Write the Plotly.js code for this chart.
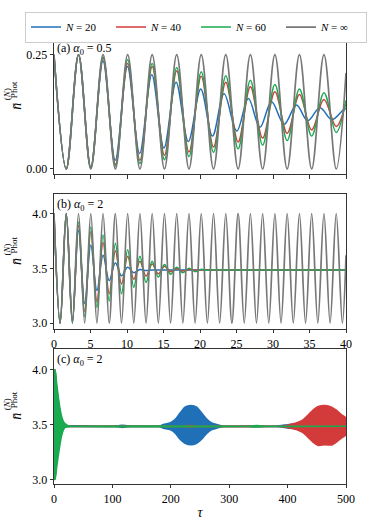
<!DOCTYPE html>
<html>
<head>
<meta charset="utf-8">
<script src="https://cdn.plot.ly/plotly-3.0.1.min.js"></script>
<style>html,body{margin:0;padding:0;background:#fff;}#chart{width:374px;height:522px;}</style>
</head>
<body>
<div id="chart"></div>
<script>
// ---------- data ----------
var seriesNames = ['<i>N</i> = 20', '<i>N</i> = 40', '<i>N</i> = 60', '<i>N</i> = ∞'];
var colors = ['#2070b8', '#d33b3b', '#1aaa50', '#777777'];

// panel (a): alpha0 = 0.5, extrema of the oscillation
var tauA = [0,1.68,3.36,5.04,6.72,8.41,10.09,11.77,13.45,15.13,16.81,18.49,20.17,21.85,23.53,25.22,26.9,28.58,30.26,31.94,33.62,35.3,36.98,38.66,40];
var grayA = [0.25,0,0.25,0,0.25,0,0.25,0,0.25,0,0.25,0,0.25,0,0.25,0,0.25,0,0.25,0,0.25,0,0.25,0,0.21];
var greenA = [0.25,0,0.25,0.001,0.245,0.006,0.239,0.012,0.231,0.020,0.222,0.027,0.213,0.036,0.204,0.044,0.194,0.052,0.185,0.062,0.175,0.072,0.167,0.080,0.150];
var redA = [0.25,0,0.25,0.002,0.243,0.010,0.231,0.019,0.224,0.030,0.215,0.037,0.203,0.048,0.190,0.059,0.180,0.0675,0.169,0.078,0.163,0.0855,0.152,0.093,0.145];
var tauA20 = [0,1.68,3.36,5.04,6.71,8.39,10.06,11.73,13.4,15.06,16.72,18.4,20.1,21.71,23.3,25.04,26.63,28.21,29.8,31.53,33.21,34.75,36.43,38.07,39.75,40];
var blueA = [0.25,0,0.25,0.004,0.236,0.019,0.224,0.034,0.206,0.046,0.190,0.060,0.175,0.072,0.1645,0.083,0.154,0.091,0.147,0.098,0.140,0.1056,0.134,0.108,0.131,0.131];

// panel (b): alpha0 = 2, extrema of the oscillation
var tauB = [0,0.84,1.68,2.52,3.36,4.2,5.04,5.88,6.72,7.56,8.41,9.25,10.09,10.93,11.77,12.61,13.45,14.29,15.13,15.97,16.81,17.65,18.49,19.33,20.17,21.01,21.85,22.69,23.53,24.37,25.22,26.06,26.9,27.74,28.58,29.42,30.26,31.1,31.94,32.78,33.62,34.46,35.3,36.14,36.98,37.82,38.66,39.5,40];
var grayB = [4,3,4,3,4,3,4,3,4,3,4,3,4,3,4,3,4,3,4,3,4,3,4,3,4,3,4,3,4,3,4,3,4,3,4,3,4,3,4,3,4,3,4,3,4,3,4,3,3.62];
var tauB20 = [0,0.84,1.68,2.52,3.36,4.2,5.04,5.88,6.72,7.56,8.41,9.25,10.09,10.93,11.77,12.61,13.45,14.29,40];
var blueB = [4,3,4,3.03,3.848,3.18,3.714,3.297,3.619,3.387,3.551,3.432,3.51,3.46,3.49,3.48,3.485,3.485,3.485];
var tauB40 = [0,0.84,1.68,2.52,3.36,4.2,5.04,5.88,6.72,7.56,8.41,9.25,10.09,10.93,11.77,12.61,13.45,14.29,15.13,15.97,16.81,17.65,18.49,19.33,20.17,21.01,40];
var redB = [4,3,4,3.01,3.89,3.107,3.833,3.194,3.738,3.268,3.661,3.357,3.61,3.40,3.565,3.43,3.54,3.45,3.52,3.47,3.497,3.476,3.49,3.482,3.487,3.485,3.485];
var tauB60 = [0,0.84,1.68,2.52,3.36,4.2,5.04,5.88,6.72,7.56,8.41,9.25,10.09,10.93,11.77,12.61,13.45,14.29,15.13,15.97,16.81,17.65,18.49,19.33,20.17,21.01,21.85,22.69,40];
var greenB = [4,3,4,3.0,3.92,3.06,3.878,3.143,3.804,3.202,3.729,3.268,3.67,3.328,3.61,3.372,3.565,3.42,3.536,3.446,3.51,3.46,3.50,3.47,3.492,3.482,3.487,3.485,3.485];

// panel (c): alpha0 = 2, long times; upper / lower envelopes of the fast oscillation
var tauC20 = [0,1.7,3.4,5.0,6.7,8.4,10,12,15,100,110,117,125,135,180,187.2,198.6,207.2,215.8,224.3,234.6,244.3,252.9,261.4,270,278.5,290,380,400,420,440,466,500];
var upC20 = [4.0,4.0,3.85,3.71,3.62,3.55,3.51,3.49,3.485,3.485,3.49,3.495,3.49,3.485,3.487,3.502,3.516,3.546,3.606,3.66,3.675,3.66,3.606,3.552,3.516,3.502,3.487,3.487,3.50,3.512,3.525,3.535,3.525];
var loC20 = [3.0,3.02,3.10,3.24,3.34,3.41,3.45,3.475,3.485,3.485,3.48,3.475,3.48,3.485,3.483,3.468,3.455,3.425,3.367,3.33,3.316,3.33,3.367,3.42,3.455,3.468,3.483,3.483,3.47,3.458,3.445,3.435,3.445];
var tauC40 = [0,1.7,3.4,5.0,6.7,8.4,10,12,15,18,21,25,215,233,250,385,400,410,418,427,435.6,444,452.6,464,475.5,484,492.6,500];
var upC40 = [4.0,4.0,3.89,3.83,3.74,3.66,3.61,3.565,3.52,3.497,3.488,3.485,3.485,3.492,3.485,3.485,3.495,3.508,3.522,3.546,3.591,3.636,3.666,3.675,3.66,3.63,3.591,3.56];
var loC40 = [3.0,3.01,3.107,3.194,3.268,3.357,3.40,3.43,3.45,3.476,3.482,3.485,3.485,3.478,3.485,3.485,3.475,3.462,3.449,3.425,3.382,3.338,3.31,3.316,3.315,3.343,3.38,3.41];
var tauC60 = [0,1.7,4.6,7.4,10.3,13.1,16,18.8,24.5,30,330,347,365,500];
var upC60 = [4.0,4.0,3.875,3.755,3.65,3.576,3.531,3.51,3.49,3.485,3.485,3.492,3.485,3.485];
var loC60 = [3.0,3.0,3.11,3.22,3.32,3.40,3.452,3.475,3.482,3.485,3.485,3.478,3.485,3.485];

// ---------- figure ----------
var FONT = "'Liberation Serif', 'DejaVu Serif', serif";
var traces = [];
function lineTrace(x, y, i, xa, ya, legend) {
  return {x: x, y: y, type: 'scatter', mode: 'lines', name: seriesNames[i],
    line: {color: colors[i], width: i === 3 ? 1.7 : 1.5, shape: 'spline', smoothing: 1},
    xaxis: xa, yaxis: ya, showlegend: legend, legendgroup: 'g' + i, hoverinfo: 'skip'};
}
traces.push(lineTrace(tauA20, blueA, 0, 'x', 'y', true));
traces.push(lineTrace(tauA, redA, 1, 'x', 'y', true));
traces.push(lineTrace(tauA, greenA, 2, 'x', 'y', true));
traces.push(lineTrace(tauA, grayA, 3, 'x', 'y', true));

traces.push(lineTrace(tauB20, blueB, 0, 'x2', 'y2', false));
traces.push(lineTrace(tauB40, redB, 1, 'x2', 'y2', false));
traces.push(lineTrace(tauB60, greenB, 2, 'x2', 'y2', false));
traces.push(lineTrace(tauB, grayB, 3, 'x2', 'y2', false));

function band(tau, up, lo, i) {
  var x = tau.concat(tau.slice().reverse());
  var y = up.concat(lo.slice().reverse());
  return {x: x, y: y, type: 'scatter', mode: 'lines', fill: 'toself', fillcolor: colors[i],
    line: {color: colors[i], width: 1.5, shape: 'spline', smoothing: 0.6},
    xaxis: 'x3', yaxis: 'y3', showlegend: false, hoverinfo: 'skip'};
}
traces.push(band(tauC20, upC20, loC20, 0));
traces.push(band(tauC40, upC40, loC40, 1));
traces.push(band(tauC60, upC60, loC60, 2));

function xax(range, dtick, labels, anchor) {
  return {range: range, dtick: dtick, tick0: 0, showticklabels: labels, anchor: anchor,
    ticks: 'outside', ticklen: 3.5, tickwidth: 0.8, tickcolor: '#000',
    showline: true, linecolor: '#000', linewidth: 0.8, mirror: true,
    showgrid: false, zeroline: false, tickfont: {family: FONT, size: 12, color: '#000'}};
}
function yax(domain, range, vals, text, anchor) {
  return {domain: domain, range: range, tickvals: vals, ticktext: text, anchor: anchor,
    ticks: 'outside', ticklen: 3.5, tickwidth: 0.8, tickcolor: '#000',
    showline: true, linecolor: '#000', linewidth: 0.8, mirror: true,
    showgrid: false, zeroline: false, tickfont: {family: FONT, size: 12, color: '#000'}};
}

var layout = {
  width: 374, height: 522,
  margin: {l: 54, r: 28, t: 29, b: 38},
  paper_bgcolor: '#fff', plot_bgcolor: '#fff',
  font: {family: FONT, color: '#000'},
  xaxis: xax([0, 40], 5, false, 'y'),
  xaxis2: xax([0, 40], 5, true, 'y2'),
  xaxis3: Object.assign(xax([0, 500], 100, true, 'y3'), {title: {text: '<i>τ</i>', font: {family: FONT, size: 14}, standoff: 2}}),
  yaxis: yax([0.6945, 1], [-0.0116, 0.2866], [0, 0.25], ['0.00', '0.25'], 'x'),
  yaxis2: yax([0.3473, 0.6505], [2.946, 4.179], [3, 3.5, 4], ['3.0', '3.5', '4.0'], 'x2'),
  yaxis3: yax([0, 0.3033], [2.958, 4.194], [3, 3.5, 4], ['3.0', '3.5', '4.0'], 'x3'),
  legend: {orientation: 'h', xref: 'paper', yref: 'paper', x: (25 - 54) / 292, y: 1 + (29 - 2) / 455,
    xanchor: 'left', yanchor: 'top', bordercolor: '#cccccc', borderwidth: 1, bgcolor: '#fff',
    font: {family: FONT, size: 11}, entrywidth: 40, entrywidthmode: 'pixels', itemwidth: 30, traceorder: 'normal'},
  annotations: []
};

var panelLabels = ['(a) <i>α</i><sub>0</sub> = 0.5', '(b) <i>α</i><sub>0</sub> = 2', '(c) <i>α</i><sub>0</sub> = 2'];
var yrefs = ['y domain', 'y2 domain', 'y3 domain'];
var xrefs = ['x domain', 'x2 domain', 'x3 domain'];
for (var p = 0; p < 3; p++) {
  layout.annotations.push({text: panelLabels[p], xref: xrefs[p], yref: yrefs[p], x: 0, y: 1,
    xanchor: 'left', yanchor: 'top', xshift: 1, yshift: -1, showarrow: false,
    font: {family: FONT, size: 12}});
  layout.annotations.push({text: '<i>n̄</i>', xref: 'paper', yref: yrefs[p], x: 0, y: 0.5,
    xanchor: 'center', yanchor: 'middle', xshift: -37.5, yshift: 0, textangle: -90, showarrow: false,
    font: {family: FONT, size: 14}});
  layout.annotations.push({text: '(<i>N</i>)', xref: 'paper', yref: yrefs[p], x: 0, y: 0.5,
    xanchor: 'center', yanchor: 'middle', xshift: -47, yshift: 12, textangle: -90, showarrow: false,
    font: {family: FONT, size: 9}});
  layout.annotations.push({text: 'Phot', xref: 'paper', yref: yrefs[p], x: 0, y: 0.5,
    xanchor: 'center', yanchor: 'middle', xshift: -40, yshift: 16, textangle: -90, showarrow: false,
    font: {family: FONT, size: 9}});
}

Plotly.newPlot('chart', traces, layout, {displayModeBar: false, staticPlot: true});
</script>
</body>
</html>
